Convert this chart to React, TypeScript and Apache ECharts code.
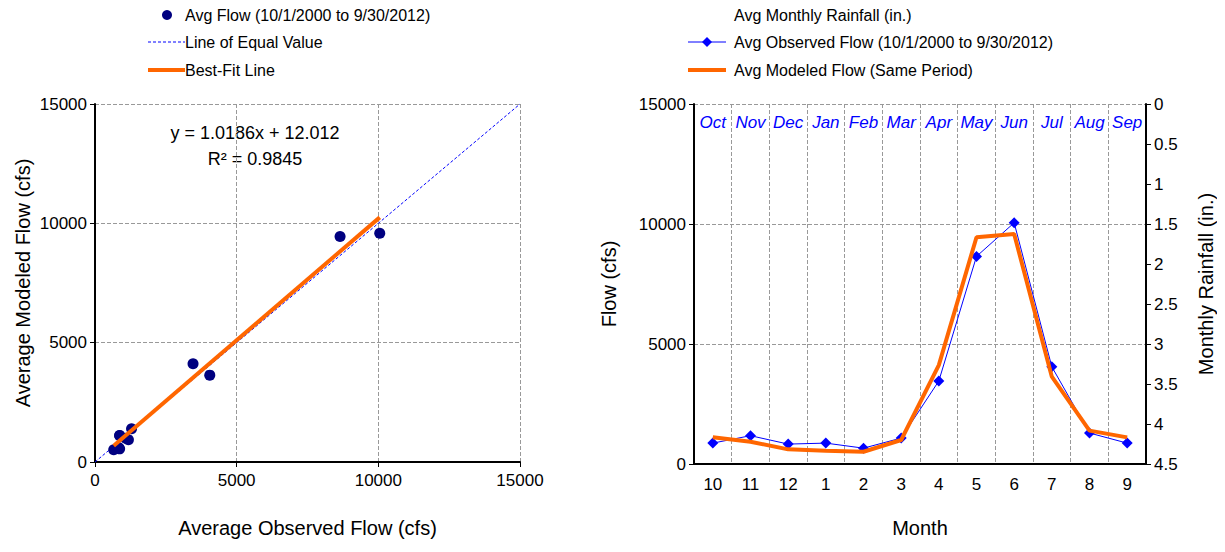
import React, { useEffect, useRef } from "react";
import * as echarts from "echarts";

const months = ["10", "11", "12", "1", "2", "3", "4", "5", "6", "7", "8", "9"];
const monthNames = ["Oct", "Nov", "Dec", "Jan", "Feb", "Mar", "Apr", "May", "Jun", "Jul", "Aug", "Sep"];
const observed = [870, 1180, 830, 870, 660, 1080, 3460, 8650, 10050, 4050, 1290, 870];
const modeled = [1110, 930, 610, 550, 510, 1000, 4120, 9450, 9580, 3640, 1390, 1110];
const slope = 1.0186;
const intercept = 12.012;

const F = "'Liberation Sans', Arial, sans-serif";

export default function App() {
  const ref = useRef<HTMLDivElement>(null);
  useEffect(() => {
    const chart = echarts.init(ref.current!, null, { renderer: "svg" });
    const pts = observed.map((o, i) => [o, modeled[i]]);
    const xmin = Math.min(...observed), xmax = Math.max(...observed);
    const fit = [[xmin, slope * xmin + intercept], [xmax, slope * xmax + intercept]];
    const grid = "#999";
    const tick = { fontFamily: F, fontSize: 17, color: "#000", formatter: (v: number) => String(v) };
    const nameStyle = { fontFamily: F, fontSize: 20, color: "#000" };
    const txt = (x: number, y: number, s: string, extra: any = {}) => ({
      type: "text", x, y, style: { text: s, fontFamily: F, fontSize: 16, fill: "#000", textVerticalAlign: "middle", ...extra },
    });
    chart.setOption({
      animation: false,
      grid: [
        { left: 95, top: 104, width: 425, height: 358 },
        { left: 694, top: 104, width: 452, height: 360 },
      ],
      xAxis: [
        {
          gridIndex: 0, type: "value", min: 0, max: 15000, interval: 5000,
          name: "Average Observed Flow (cfs)", nameLocation: "middle", nameGap: 56, nameTextStyle: nameStyle,
          axisLine: { lineStyle: { color: "#000", width: 2 } }, axisTick: { show: true, inside: false, lineStyle: { color: "#000" } },
          axisLabel: { ...tick, margin: 10 },
          splitLine: { lineStyle: { color: grid, type: "dashed" } },
        },
        {
          gridIndex: 1, type: "category", data: months, boundaryGap: true,
          name: "Month", nameLocation: "middle", nameGap: 54, nameTextStyle: nameStyle,
          axisLine: { lineStyle: { color: "#000", width: 2 } }, axisTick: { lineStyle: { color: "#000" } },
          axisLabel: { fontFamily: F, fontSize: 17, color: "#000", margin: 12, interval: 0 },
          splitLine: { show: true, interval: 0, lineStyle: { color: grid, type: "dashed" } },
        },
        {
          gridIndex: 1, type: "category", data: monthNames, position: "top", boundaryGap: true,
          axisLine: { show: false }, axisTick: { show: false },
          axisLabel: { inside: true, interval: 0, fontFamily: F, fontSize: 17, fontStyle: "italic", color: "#0000ff", margin: 10 },
        },
      ],
      yAxis: [
        {
          gridIndex: 0, type: "value", min: 0, max: 15000, interval: 5000,
          name: "Average Modeled Flow (cfs)", nameLocation: "middle", nameGap: 62, nameTextStyle: nameStyle,
          axisLine: { show: true, lineStyle: { color: "#000", width: 2 } }, axisTick: { show: true, lineStyle: { color: "#000" } },
          axisLabel: tick,
          splitLine: { lineStyle: { color: grid, type: "dashed" } },
        },
        {
          gridIndex: 1, type: "value", min: 0, max: 15000, interval: 5000,
          name: "Flow (cfs)", nameLocation: "middle", nameGap: 75, nameTextStyle: nameStyle,
          axisLine: { show: true, lineStyle: { color: "#000", width: 2 } }, axisTick: { show: true, lineStyle: { color: "#000" } },
          axisLabel: tick,
          splitLine: { lineStyle: { color: grid, type: "dashed" } },
        },
        {
          gridIndex: 1, type: "value", min: 0, max: 4.5, interval: 0.5, inverse: true, position: "right",
          name: "Monthly Rainfall (in.)", nameLocation: "middle", nameGap: 50, nameRotate: 90, nameTextStyle: nameStyle,
          axisLine: { show: true, lineStyle: { color: "#000", width: 2 } }, axisTick: { show: true, lineStyle: { color: "#000" } },
          axisLabel: tick, splitLine: { show: false },
        },
      ],
      series: [
        {
          type: "line", xAxisIndex: 0, yAxisIndex: 0, data: [[0, 0], [15000, 15000]], symbol: "none",
          lineStyle: { color: "#0000ff", width: 1, type: [3, 2] }, z: 1,
        },
        {
          type: "scatter", xAxisIndex: 0, yAxisIndex: 0, data: pts, symbolSize: 11,
          itemStyle: { color: "#000080", opacity: 1 }, z: 2,
        },
        {
          type: "line", xAxisIndex: 0, yAxisIndex: 0, data: fit, symbol: "none",
          lineStyle: { color: "#ff6600", width: 4 }, z: 3,
        },
        {
          type: "line", xAxisIndex: 1, yAxisIndex: 1, data: observed, symbol: "diamond", symbolSize: 11,
          itemStyle: { color: "#0000ff" }, lineStyle: { color: "#0000ff", width: 1 }, z: 2,
        },
        {
          type: "line", xAxisIndex: 1, yAxisIndex: 1, data: modeled, symbol: "none",
          lineStyle: { color: "#ff6600", width: 4 }, z: 3,
        },
      ],
      graphic: [
        txt(255, 133, "y = 1.0186x + 12.012", { fontSize: 18, textAlign: "center" }),
        txt(255, 159, "R² = 0.9845", { fontSize: 18, textAlign: "center" }),
        { type: "circle", shape: { cx: 167, cy: 15, r: 5 }, style: { fill: "#000080" } },
        txt(185, 15, "Avg Flow (10/1/2000 to 9/30/2012)"),
        { type: "line", shape: { x1: 148, y1: 42, x2: 185, y2: 42 }, style: { stroke: "#0000ff", lineWidth: 1, lineDash: [3, 2] } },
        txt(185, 42, "Line of Equal Value"),
        { type: "line", shape: { x1: 148, y1: 70, x2: 185, y2: 70 }, style: { stroke: "#ff6600", lineWidth: 4 } },
        txt(185, 70, "Best-Fit Line"),
        txt(734, 15, "Avg Monthly Rainfall (in.)"),
        { type: "line", shape: { x1: 688, y1: 42, x2: 726, y2: 42 }, style: { stroke: "#0000ff", lineWidth: 1 } },
        { type: "polygon", shape: { points: [[707, 37], [712, 42], [707, 47], [702, 42]] }, style: { fill: "#0000ff" } },
        txt(734, 42, "Avg Observed Flow (10/1/2000 to 9/30/2012)"),
        { type: "line", shape: { x1: 688, y1: 70, x2: 726, y2: 70 }, style: { stroke: "#ff6600", lineWidth: 4 } },
        txt(734, 70, "Avg Modeled Flow (Same Period)"),
      ],
    });
    return () => chart.dispose();
  }, []);
  return <div ref={ref} style={{ width: 1225, height: 552, margin: -8 }} />;
}
